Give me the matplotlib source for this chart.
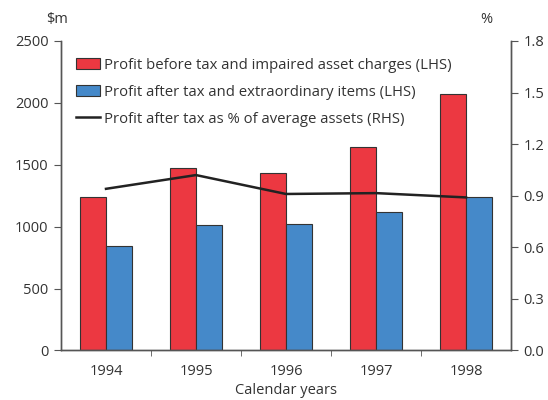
import numpy as np
import matplotlib
matplotlib.use("Agg")
import matplotlib.pyplot as plt
from matplotlib.patches import Patch
from matplotlib.lines import Line2D

plt.rcParams['font.family'] = ['Open Sans', 'DejaVu Sans']

years = ['1994', '1995', '1996', '1997', '1998']
profit_before_tax = [1240, 1475, 1430, 1640, 2075]
profit_after_tax = [840, 1010, 1020, 1115, 1240]
pct_avg_assets = [0.94, 1.02, 0.91, 0.915, 0.89]

red = '#EC3841'
blue = '#4589C9'
edge = '#333333'
txt = '#333333'
spine_col = '#555555'

fig = plt.figure(figsize=(5.48, 4.0), dpi=100)
ax = fig.add_axes([0.1113, 0.124, 0.8212, 0.7735])
ax2 = ax.twinx()

x = np.arange(len(years))
w = 0.29
ax.bar(x - w / 2, profit_before_tax, w, color=red, edgecolor=edge, linewidth=0.8, zorder=2)
ax.bar(x + w / 2, profit_after_tax, w, color=blue, edgecolor=edge, linewidth=0.8, zorder=2)
ax2.plot(x, pct_avg_assets, color='#222222', linewidth=1.8, zorder=3)

ax.set_xlim(-0.5, 4.5)
ax.set_ylim(0, 2500)
ax2.set_ylim(0, 1.8)
ax.set_yticks(np.arange(0, 2501, 500))
ax2.set_yticks(np.arange(0, 1.81, 0.3))
ax2.set_yticklabels(['%.1f' % v for v in np.arange(0, 1.81, 0.3)])

ax.set_xticks(x)
ax.set_xticklabels(years)
ax.set_xticks(np.arange(0.5, 4.0, 1.0), minor=True)
ax.tick_params(axis='x', which='major', length=0, pad=10, labelsize=10.5, colors=txt)
ax.tick_params(axis='x', which='minor', length=4, direction='out', color=spine_col)
ax.tick_params(axis='y', length=5, direction='out', pad=4, labelsize=10.5, colors=txt, color=spine_col)
ax2.tick_params(axis='y', length=5, direction='out', pad=4, labelsize=10.5, colors=txt, color=spine_col)

for a in (ax, ax2):
    a.spines['top'].set_visible(False)
    for s in ('left', 'right', 'bottom'):
        a.spines[s].set_color(spine_col)
        a.spines[s].set_linewidth(1.0)

ax.set_xlabel('Calendar years', fontsize=10.5, color=txt, labelpad=3)
fig.text(0.104, 0.952, '$m', fontsize=10.5, color=txt, ha='center', va='center')
fig.text(0.888, 0.952, '%', fontsize=10.5, color=txt, ha='center', va='center')

handles = [Patch(facecolor=red, edgecolor=edge, linewidth=0.8),
           Patch(facecolor=blue, edgecolor=edge, linewidth=0.8),
           Line2D([0], [0], color='#222222', linewidth=1.8)]
labels = ['Profit before tax and impaired asset charges (LHS)',
          'Profit after tax and extraordinary items (LHS)',
          'Profit after tax as % of average assets (RHS)']
leg = ax2.legend(handles, labels, loc='upper left', bbox_to_anchor=(0.02, 0.965),
                 frameon=False, fontsize=10.75, handlelength=1.6, handleheight=0.8,
                 handletextpad=0.3, labelspacing=0.8, borderaxespad=0)
for t in leg.get_texts():
    t.set_color(txt)

fig.savefig('out.png', dpi=100)
